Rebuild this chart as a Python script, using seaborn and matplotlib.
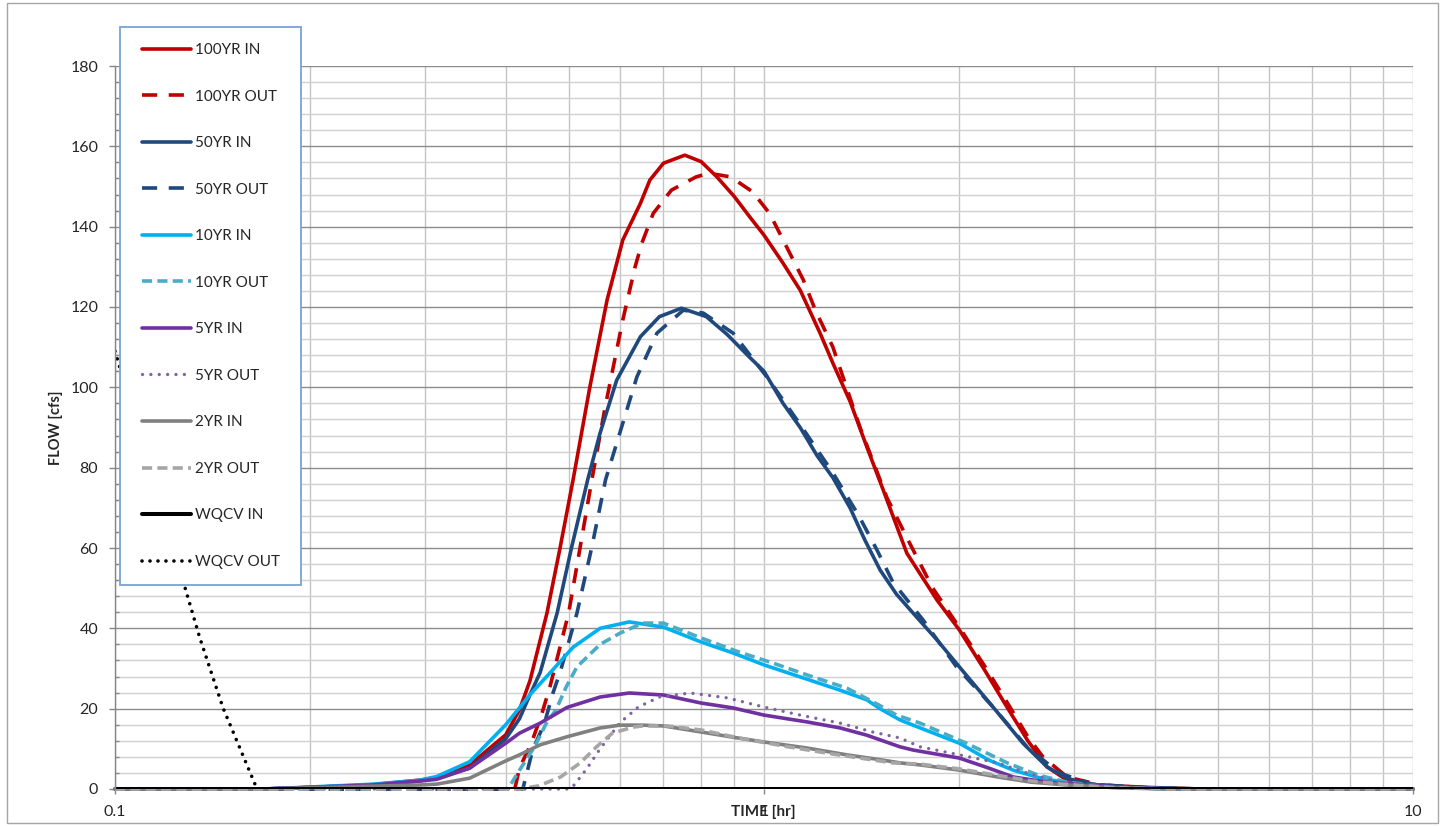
import matplotlib
matplotlib.use("Agg")
import matplotlib.pyplot as plt
from matplotlib.ticker import FixedLocator, FixedFormatter, MultipleLocator, NullFormatter
from matplotlib.patches import Rectangle
import seaborn as sns

# hydrograph values: time [hr] and flow [cfs]
T_100_IN = [0.10, 0.17, 0.20, 0.25, 0.295, 0.313, 0.352, 0.40, 0.42, 0.436, 0.463, 0.485, 0.508, 0.539,
            0.573, 0.606, 0.645, 0.667, 0.70, 0.755, 0.80, 0.846, 0.90, 0.95, 1.0, 1.07, 1.137, 1.22,
            1.277, 1.357, 1.44, 1.526, 1.66, 1.848, 2.0, 2.18, 2.368, 2.55, 2.73, 2.93, 3.26, 3.9, 4.7, 10.0]
Q_100_IN = [0, 0, 0.4, 1.1, 2.2, 2.9, 6.0, 13.5, 19.7, 27.0, 43.8, 60.0, 77.0, 100.0,
            121.7, 136.7, 145.8, 151.6, 155.8, 157.8, 156.2, 152.4, 147.5, 142.5, 137.9, 130.9, 124.2, 113.5,
            106.0, 96.5, 85.2, 74.5, 58.7, 47.0, 39.6, 30.0, 20.4, 12.0, 5.5, 2.2, 1.0, 0.4, 0, 0]

T_100_OUT = [0.10, 0.413, 0.42, 0.438, 0.454, 0.468, 0.50, 0.521, 0.543, 0.569, 0.606, 0.633, 0.648,
             0.675, 0.72, 0.786, 0.823, 0.888, 0.96, 1.02, 1.07, 1.15, 1.20, 1.277, 1.406, 1.547, 1.679,
             1.82, 2.027, 2.2, 2.393, 2.55, 2.69, 2.93, 3.3, 3.9, 4.7, 10.0]
Q_100_OUT = [0, 0, 5.2, 11.4, 18.4, 25.5, 43.8, 60.3, 77.0, 95.0, 116.8, 130.0, 135.8,
             143.3, 149.1, 152.4, 153.3, 152.4, 148.7, 143.3, 136.7, 126.7, 119.2, 110.0, 90.0, 72.5, 61.0,
             50.0, 38.8, 30.0, 20.4, 13.0, 8.0, 3.0, 1.0, 0.3, 0, 0]

T_50_IN = [0.10, 0.17, 0.20, 0.25, 0.295, 0.313, 0.352, 0.40, 0.42, 0.436, 0.452, 0.48, 0.505, 0.535,
           0.559, 0.593, 0.645, 0.69, 0.746, 0.815, 0.877, 0.95, 1.0, 1.07, 1.137, 1.207, 1.277, 1.357,
           1.43, 1.51, 1.60, 1.697, 1.85, 2.0, 2.254, 2.506, 2.73, 2.93, 3.2, 3.9, 4.7, 10.0]
Q_50_IN = [0, 0, 0.4, 1.0, 2.0, 2.7, 5.2, 12.5, 17.5, 23.5, 29.0, 43.8, 60.0, 77.0,
           88.6, 101.8, 112.6, 117.6, 119.7, 117.6, 113.2, 107.5, 104.0, 96.0, 90.0, 83.0, 77.5, 70.0,
           62.0, 54.5, 48.5, 43.8, 37.0, 30.4, 20.4, 11.4, 5.5, 2.7, 1.0, 0.3, 0, 0]

T_50_OUT = [0.10, 0.425, 0.44, 0.459, 0.473, 0.486, 0.515, 0.543, 0.57, 0.593, 0.637, 0.684, 0.751,
            0.806, 0.896, 1.01, 1.124, 1.277, 1.40, 1.493, 1.58, 1.758, 1.98, 2.254, 2.542, 2.85,
            3.2, 3.9, 4.7, 10.0]
Q_50_OUT = [0, 0, 9.7, 16.4, 23.9, 29.5, 43.8, 60.3, 77.0, 86.1, 102.6, 113.5, 119.2,
            118.5, 113.5, 102.6, 91.9, 78.7, 68.0, 59.5, 51.5, 42.1, 30.4, 20.4, 10.5, 4.0,
            1.2, 0.3, 0, 0]

T_10_IN = [0.10, 0.17, 0.20, 0.25, 0.295, 0.313, 0.352, 0.40, 0.42, 0.436, 0.468, 0.508, 0.559, 0.62,
           0.70, 0.80, 0.895, 1.0, 1.137, 1.31, 1.44, 1.509, 1.62, 1.697, 2.0, 2.22, 2.42, 2.67,
           3.07, 3.6, 4.5, 10.0]
Q_10_IN = [0, 0, 0.5, 1.2, 2.2, 3.1, 6.8, 16.0, 20.2, 23.5, 28.9, 35.3, 40.0, 41.6,
           40.3, 36.6, 33.9, 30.9, 27.9, 24.6, 22.2, 20.0, 17.2, 15.9, 11.4, 7.2, 4.7, 2.7,
           1.0, 0.3, 0, 0]

T_10_OUT = [0.10, 0.403, 0.422, 0.443, 0.462, 0.478, 0.496, 0.515, 0.559, 0.60, 0.65, 0.70, 0.80,
            0.915, 1.03, 1.165, 1.342, 1.50, 1.60, 1.74, 2.05, 2.37, 2.64, 2.93, 3.4, 4.2, 10.0]
Q_10_OUT = [0, 0, 5.2, 10.5, 16.4, 19.7, 25.5, 30.4, 36.0, 38.8, 41.3, 41.3, 37.6,
            34.1, 31.4, 28.4, 25.1, 21.0, 18.4, 16.4, 11.4, 6.5, 3.5, 1.7, 0.5, 0, 0]

T_5_IN = [0.10, 0.17, 0.20, 0.25, 0.295, 0.313, 0.352, 0.40, 0.42, 0.452, 0.497, 0.559, 0.62, 0.70,
          0.80, 0.895, 1.0, 1.165, 1.31, 1.44, 1.62, 1.697, 2.0, 2.22, 2.42, 2.73, 3.15, 3.7, 4.5, 10.0]
Q_5_IN = [0, 0, 0.4, 1.0, 2.0, 2.4, 5.2, 11.4, 13.9, 16.4, 20.3, 22.9, 23.9, 23.4,
          21.4, 20.2, 18.4, 16.7, 15.2, 13.4, 10.5, 9.7, 7.7, 5.2, 3.0, 1.7, 1.0, 0.3, 0, 0]

T_5_OUT = [0.10, 0.50, 0.51, 0.533, 0.559, 0.60, 0.64, 0.69, 0.77, 0.877, 1.0, 1.137, 1.31, 1.47,
           1.62, 1.74, 2.0, 2.29, 2.54, 2.85, 3.3, 4.2, 10.0]
Q_5_OUT = [0, 0, 1.0, 5.0, 10.0, 16.5, 20.4, 22.9, 23.9, 22.7, 20.4, 18.4, 16.4, 14.2,
           12.7, 10.5, 8.5, 6.5, 4.0, 1.7, 0.5, 0, 0]

T_2_IN = [0.10, 0.17, 0.20, 0.25, 0.295, 0.313, 0.352, 0.40, 0.42, 0.452, 0.497, 0.559, 0.60, 0.65,
          0.70, 0.80, 0.895, 1.0, 1.165, 1.342, 1.509, 1.62, 1.74, 2.0, 2.29, 2.58, 2.93, 3.5, 4.2, 10.0]
Q_2_IN = [0, 0, 0.3, 0.7, 1.0, 1.2, 2.7, 7.0, 8.5, 11.0, 13.0, 15.2, 15.9, 15.9,
          15.7, 14.2, 12.9, 11.7, 10.2, 8.5, 7.3, 6.5, 6.0, 4.7, 3.0, 1.7, 1.0, 0.3, 0, 0]

T_2_OUT = [0.10, 0.42, 0.45, 0.486, 0.521, 0.552, 0.584, 0.628, 0.65, 0.71, 0.80, 0.915, 1.09,
           1.277, 1.58, 1.74, 2.0, 2.29, 2.58, 2.93, 3.5, 4.2, 10.0]
Q_2_OUT = [0, 0, 0.8, 3.0, 6.5, 10.5, 13.9, 15.4, 15.7, 15.7, 14.7, 12.7, 10.5,
           8.7, 6.5, 6.2, 5.0, 3.4, 2.0, 1.1, 0.3, 0, 0]

T_WQ_IN = [0.10, 1.0, 10.0]
Q_WQ_IN = [0, 0, 0]

T_WQ_OUT = [0.10, 0.128, 0.135, 0.1467, 0.1655, 1.0, 10.0]
Q_WQ_OUT = [109.0, 50.5, 37.8, 20.2, 0, 0, 0]

X_TICKS = [0.1, 1, 10]
X_TICK_LABELS = ["0.1", "1", "10"]

LONG_DASH = (0, (4.2, 3.2))
SHORT_DASH = (0, (2.8, 1.45))

# (label, t, q, colour, linestyle, width)
series = [
    ("100YR IN", T_100_IN, Q_100_IN, "#c00000", "-", 2.6),
    ("100YR OUT", T_100_OUT, Q_100_OUT, "#c00000", LONG_DASH, 2.6),
    ("50YR IN", T_50_IN, Q_50_IN, "#1f497d", "-", 2.6),
    ("50YR OUT", T_50_OUT, Q_50_OUT, "#1f497d", LONG_DASH, 2.6),
    ("10YR IN", T_10_IN, Q_10_IN, "#00b0f0", "-", 2.6),
    ("10YR OUT", T_10_OUT, Q_10_OUT, "#4bacc6", SHORT_DASH, 2.6),
    ("5YR IN", T_5_IN, Q_5_IN, "#7030a0", "-", 2.6),
    ("5YR OUT", T_5_OUT, Q_5_OUT, "#8064a2", (0, (0.01, 2.5)), 2.4),
    ("2YR IN", T_2_IN, Q_2_IN, "#808080", "-", 2.6),
    ("2YR OUT", T_2_OUT, Q_2_OUT, "#a6a6a6", SHORT_DASH, 2.6),
    ("WQCV IN", T_WQ_IN, Q_WQ_IN, "#000000", "-", 2.9),
    ("WQCV OUT", T_WQ_OUT, Q_WQ_OUT, "#000000", (0, (0.01, 2.2)), 2.6),
]

sns.set_theme(style="white")
plt.rcParams['font.family'] = ['Lato', 'DejaVu Sans']

W, H = 1442, 826
fig = plt.figure(figsize=(W / 100, H / 100), dpi=100)
ax = fig.add_axes([115 / W, 1 - 789 / H, (1413 - 115) / W, (789 - 66) / H])
ax.set_xscale('log')

for label, t, q, col, ls, lw in series:
    dotted = isinstance(ls, tuple) and ls[1][0] < 0.1
    sns.lineplot(x=t, y=q, ax=ax, color=col, linestyle=ls, linewidth=lw, label=label,
                 estimator=None, sort=False, clip_on=label.startswith("WQCV"),
                 dash_capstyle="round" if dotted else "butt", solid_joinstyle="round")

ax.set_xlim(0.1, 10)
ax.set_ylim(0, 180)

ax.xaxis.set_major_locator(FixedLocator(X_TICKS))
ax.xaxis.set_major_formatter(FixedFormatter(X_TICK_LABELS))
ax.xaxis.set_minor_locator(FixedLocator([m * d for d in (0.1, 1) for m in range(2, 10)]))
ax.xaxis.set_minor_formatter(NullFormatter())
ax.yaxis.set_major_locator(MultipleLocator(20))
ax.yaxis.set_minor_locator(MultipleLocator(4))

ax.set_axisbelow(True)
ax.grid(which='major', axis='y', color='#8c8c8c', linewidth=1.0)
ax.grid(which='minor', axis='y', color='#d0d0d0', linewidth=1.0)
ax.grid(which='both', axis='x', color='#c4c4c4', linewidth=1.0)

for side in ('top', 'right', 'bottom'):
    ax.spines[side].set_visible(False)
ax.spines['left'].set_color('#868686')
ax.spines['left'].set_linewidth(1.0)

ax.tick_params(axis='y', which='major', direction='out', length=4.5, width=1, color='#868686',
               labelsize=11.5, pad=7.5, left=True)
ax.tick_params(axis='y', which='minor', direction='in', length=3, width=1, color='#868686', left=True)
ax.tick_params(axis='x', which='major', direction='out', length=3.6, width=1, color='#868686',
               labelsize=11.5, pad=8, bottom=True)
ax.tick_params(axis='x', which='minor', length=0)

ax.set_xlabel("TIME [hr]", fontsize=11, fontweight='bold')
ax.set_ylabel("FLOW [cfs]", fontsize=10.5, fontweight='bold')
ax.xaxis.set_label_coords(0.4992, -0.0225)
ax.yaxis.set_label_coords(-0.040, 0.5)

# legend box sits over the top left corner of the plot
frame = Rectangle(((120 - 115) / 1298, (789 - 585) / 723), (301 - 120) / 1298, (585 - 27) / 723,
                  transform=ax.transAxes, facecolor='white', edgecolor='#7ba3d6', linewidth=1.3,
                  clip_on=False, zorder=6)
ax.add_patch(frame)
leg = ax.legend(loc='upper left', bbox_to_anchor=((142 - 115) / 1298, (789 - 43) / 723),
                frameon=False, fontsize=11, borderpad=0, borderaxespad=0, labelspacing=2.13,
                handlelength=3.2, handletextpad=0.25)
leg.set_zorder(7)

fig.patches.append(Rectangle((7 / W, 3 / H), (1438 - 7) / W, (823 - 3) / H, transform=fig.transFigure,
                             facecolor='none', edgecolor='#a6a6a6', linewidth=1.0))

fig.savefig("out.png", dpi=100)
